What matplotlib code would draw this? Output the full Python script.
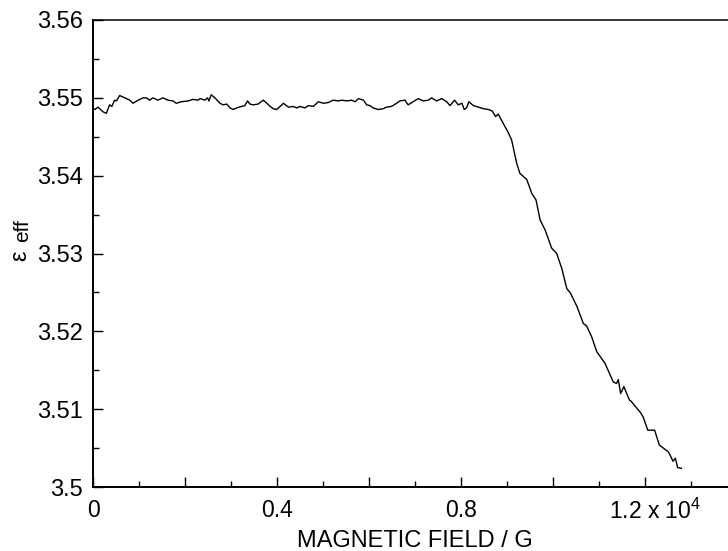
import matplotlib
matplotlib.use("Agg")
import matplotlib.pyplot as plt
from matplotlib.ticker import FixedLocator, MultipleLocator
from matplotlib.transforms import ScaledTranslation

plt.rcParams["font.family"] = ["Liberation Sans", "DejaVu Sans"]
plt.rcParams["mathtext.fontset"] = "custom"
plt.rcParams["mathtext.rm"] = "Liberation Sans"
plt.rcParams["mathtext.default"] = "regular"

# magnetic field (units of 10^4 G)
field = [0.000, 0.004, 0.011, 0.022, 0.029, 0.036, 0.041, 0.047, 0.051, 0.058,
         0.069, 0.080, 0.087, 0.098, 0.109, 0.116, 0.123, 0.130, 0.141, 0.152,
         0.163, 0.174, 0.181, 0.192, 0.207, 0.217, 0.228, 0.233, 0.243, 0.249,
         0.252, 0.257, 0.265, 0.276, 0.283, 0.291, 0.298, 0.305, 0.312, 0.323,
         0.330, 0.336, 0.341, 0.348, 0.359, 0.370, 0.378, 0.385, 0.392, 0.399,
         0.407, 0.414, 0.425, 0.435, 0.443, 0.450, 0.461, 0.468, 0.479, 0.490,
         0.501, 0.512, 0.522, 0.533, 0.541, 0.552, 0.562, 0.570, 0.577, 0.588,
         0.595, 0.602, 0.609, 0.620, 0.631, 0.638, 0.649, 0.660, 0.667, 0.678,
         0.685, 0.696, 0.707, 0.718, 0.729, 0.736, 0.747, 0.758, 0.769, 0.776,
         0.786, 0.794, 0.802, 0.807, 0.812, 0.817, 0.827, 0.838, 0.849, 0.860,
         0.868, 0.875, 0.881, 0.892, 0.903, 0.910, 0.921, 0.928, 0.943, 0.954,
         0.963, 0.972, 0.983, 0.997, 1.008, 1.019, 1.030, 1.038, 1.052, 1.066,
         1.073, 1.084, 1.095, 1.113, 1.131, 1.138, 1.142, 1.147, 1.154, 1.166,
         1.170, 1.191, 1.196, 1.206, 1.221, 1.231, 1.251, 1.261, 1.266, 1.271,
         1.279]
eps_eff = [3.5487, 3.5485, 3.5488, 3.5482, 3.5480, 3.5491, 3.5489, 3.5497, 3.5496, 3.5503,
           3.5500, 3.5497, 3.5493, 3.5497, 3.5500, 3.5500, 3.5497, 3.5500, 3.5497, 3.5500,
           3.5497, 3.5496, 3.5493, 3.5495, 3.5496, 3.5498, 3.5497, 3.5499, 3.5497, 3.5500,
           3.5496, 3.5504, 3.5500, 3.5493, 3.5491, 3.5492, 3.5487, 3.5485, 3.5487, 3.5489,
           3.5490, 3.5496, 3.5492, 3.5491, 3.5492, 3.5497, 3.5493, 3.5489, 3.5486, 3.5485,
           3.5489, 3.5493, 3.5488, 3.5489, 3.5487, 3.5489, 3.5487, 3.5490, 3.5489, 3.5495,
           3.5493, 3.5494, 3.5497, 3.5496, 3.5497, 3.5496, 3.5497, 3.5495, 3.5499, 3.5497,
           3.5491, 3.5490, 3.5487, 3.5485, 3.5486, 3.5488, 3.5489, 3.5493, 3.5496, 3.5497,
           3.5491, 3.5495, 3.5499, 3.5496, 3.5497, 3.5500, 3.5496, 3.5499, 3.5495, 3.5490,
           3.5497, 3.5491, 3.5493, 3.5485, 3.5487, 3.5495, 3.5490, 3.5488, 3.5486, 3.5485,
           3.5483, 3.5476, 3.5479, 3.5467, 3.5455, 3.5446, 3.5416, 3.5403, 3.5395, 3.5377,
           3.5369, 3.5343, 3.5330, 3.5307, 3.5300, 3.5281, 3.5255, 3.5249, 3.5232, 3.5210,
           3.5207, 3.5193, 3.5174, 3.5159, 3.5135, 3.5133, 3.5138, 3.5120, 3.5129, 3.5112,
           3.5110, 3.5095, 3.5090, 3.5073, 3.5073, 3.5054, 3.5045, 3.5033, 3.5037, 3.5025,
           3.5024]

x_ticks = [0.0, 0.2, 0.4, 0.6, 0.8, 1.0, 1.2, 1.4]
x_tick_labels = ["0", "", "0.4", "", "0.8", "", "1.2 x 10$^{4}$", ""]
y_ticks = [3.50, 3.51, 3.52, 3.53, 3.54, 3.55, 3.56]
y_tick_labels = ["3.5", "3.51", "3.52", "3.53", "3.54", "3.55", "3.56"]

fig = plt.figure(figsize=(7.28, 5.51), dpi=100)
ax = fig.add_axes([93 / 728, 64 / 551, 644 / 728, 467 / 551])
ax.plot(field, eps_eff, color="black", lw=1.0)
ax.set_xlim(0, 1.4)
ax.set_ylim(3.50, 3.56)

ax.xaxis.set_major_locator(FixedLocator(x_ticks))
ax.set_xticklabels(x_tick_labels)
ax.xaxis.set_minor_locator(MultipleLocator(0.1))
ax.yaxis.set_major_locator(FixedLocator(y_ticks))
ax.set_yticklabels(y_tick_labels)
ax.yaxis.set_minor_locator(MultipleLocator(0.005))

ax.tick_params(which="both", direction="in", top=False, right=False, width=1.0, colors="black")
ax.tick_params(which="major", length=7.5)
ax.tick_params(which="minor", length=4.3)
ax.tick_params(axis="y", labelsize=17, pad=7)
ax.tick_params(axis="x", labelsize=16.5, pad=8.5)
for s in ax.spines.values():
    s.set_linewidth(1.4)
ax.spines["top"].set_linewidth(1.1)

# nudge the "1.2 x 10^4" label slightly right, as in the reference
lab = ax.xaxis.get_major_ticks()[6].label1
lab.set_transform(lab.get_transform() + ScaledTranslation(7 / 72, 0, fig.dpi_scale_trans))

ax.set_xlabel("MAGNETIC FIELD / G", fontsize=17, labelpad=4)
fig.text(20 / 728, 1 - 256 / 551, "ε", rotation=90, fontsize=17, ha="center", va="center")
fig.text(23 / 728, 1 - 231 / 551, "eff", rotation=90, fontsize=15, ha="center", va="center")

fig.savefig("out.png", dpi=100)
